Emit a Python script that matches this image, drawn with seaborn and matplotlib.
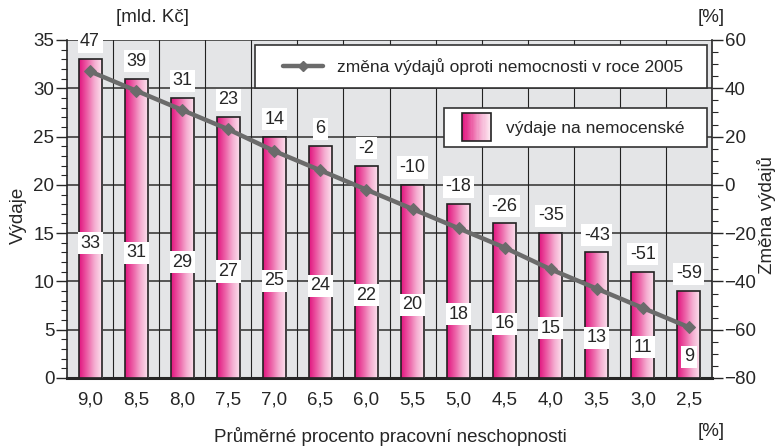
import numpy as np
import pandas as pd
import matplotlib
matplotlib.use("Agg")
import matplotlib.pyplot as plt
from matplotlib.colors import LinearSegmentedColormap
from matplotlib.lines import Line2D
from matplotlib.patches import Rectangle
from matplotlib.legend_handler import HandlerBase, HandlerLine2D
import seaborn as sns

sns.set_style("white")
plt.rcParams['font.family'] = ['Liberation Sans', 'DejaVu Sans']

# data
categories = ['9,0', '8,5', '8,0', '7,5', '7,0', '6,5', '6,0',
              '5,5', '5,0', '4,5', '4,0', '3,5', '3,0', '2,5']
vydaje = [33, 31, 29, 27, 25, 24, 22, 20, 18, 16, 15, 13, 11, 9]
zmena = [47, 39, 31, 23, 14, 6, -2, -10, -18, -26, -35, -43, -51, -59]

df = pd.DataFrame({'procento': categories, 'vydaje': vydaje, 'zmena': zmena})

pink = LinearSegmentedColormap.from_list(
    'pink', ['#e2157f', '#ec5fa6', '#f5b0d2', '#fde6f0'])
grad = np.linspace(0, 1, 64).reshape(1, -1)
line_col = '#6b6b6b'
bg = '#e4e5e7'
FS = 13.5
LFS = 12.5
VFS = 13

fig = plt.figure(figsize=(7.8, 4.47), dpi=100)
ax = fig.add_axes([67/780, 69/447, 645/780, 338/447])
ax.set_facecolor(bg)

sns.barplot(data=df, x='procento', y='vydaje', order=categories,
            color='#ec5fa6', width=0.5, edgecolor='#222222', linewidth=1.2,
            ax=ax, zorder=3)

# gradient fill inside each bar
for p in ax.patches:
    x0, y0 = p.get_x(), p.get_y()
    im = ax.imshow(grad, cmap=pink, aspect='auto', zorder=3.5,
                   extent=[x0, x0 + p.get_width(), y0, y0 + p.get_height()])
    im.set_clip_path(p)
    p.set_facecolor('none')
    p.set_zorder(4)

ax.set_xlim(-0.5, len(categories) - 0.5)
ax.set_ylim(0, 35)
ax.set_yticks(np.arange(0, 36, 5))
ax.set_yticks(np.arange(0, 36, 1), minor=True)
ax.set_xticks(np.arange(len(categories)))
ax.set_xticklabels(categories)
ax.set_xticks(np.arange(-0.5, len(categories)), minor=True)

# grid
for yv in np.arange(5, 36, 5):
    ax.axhline(yv, color='#3c3c3c', lw=1.2, zorder=1)
for xv in np.arange(0.5, len(categories) - 0.5):
    ax.axvline(xv, color='#222222', lw=0.8, zorder=1)

ax.tick_params(axis='x', which='major', length=0, labelsize=FS, pad=10)
ax.tick_params(axis='x', which='minor', length=8, width=1.2, color='#222222')
ax.tick_params(axis='y', which='major', length=8, width=1, labelsize=FS, pad=1)
ax.tick_params(axis='y', which='minor', length=4, width=0.8)
for s in ['top', 'right']:
    ax.spines[s].set_visible(False)
ax.spines['left'].set_linewidth(1.2)
ax.spines['bottom'].set_linewidth(2.2)
ax.set_xlabel('')
ax.set_ylabel('')

# right axis with the line
ax2 = ax.twinx()
pos = np.arange(len(categories))
sns.lineplot(x=pos, y=zmena, ax=ax2, color=line_col, lw=3.2, marker='D',
             markersize=6, markeredgecolor=line_col, zorder=6)
ax2.set_ylim(-80, 60)
ax2.set_yticks(np.arange(-80, 61, 20))
ax2.set_yticks(np.arange(-80, 61, 5), minor=True)
ax2.tick_params(axis='y', which='major', length=8, width=1, labelsize=FS, pad=1)
ax2.tick_params(axis='y', which='minor', length=4, width=0.8)
for s in ['top', 'left', 'bottom']:
    ax2.spines[s].set_visible(False)
ax2.spines['right'].set_linewidth(1.2)
ax2.set_ylabel('')

# value labels
for i, (v, z) in enumerate(zip(vydaje, zmena)):
    ax.text(i, v * 0.49 - 2.2, str(v), ha='center', va='center', fontsize=VFS,
            zorder=7, bbox=dict(facecolor='white', edgecolor='none', pad=1.8))
    ax.text(i, v + 1.8, str(z), ha='center', va='center', fontsize=VFS,
            zorder=7, bbox=dict(facecolor='white', edgecolor='none', pad=1.8))


class GradientHandler(HandlerBase):
    # square swatch sitting at the right end of the handle box
    def create_artists(self, legend, orig, xd, yd, w, h, fs, trans):
        rw = 1.67 * fs
        x0 = -xd + w - rw
        arts = []
        n = 24
        for k in range(n):
            arts.append(Rectangle((x0 + rw * k / n, -yd), rw / n + 0.3, h,
                                  facecolor=pink(k / (n - 1)), edgecolor='none',
                                  transform=trans))
        arts.append(Rectangle((x0, -yd), rw, h, facecolor='none',
                              edgecolor='#222222', lw=1.2, transform=trans))
        return arts


h_line = Line2D([], [], color=line_col, lw=3.2, marker='D', markersize=5)
leg1 = ax2.legend([h_line], ['změna výdajů oproti nemocnosti v roce 2005'],
                  handler_map={h_line: HandlerLine2D(xpad=0.86)},
                  loc='upper left', bbox_to_anchor=(0.2915, 0.5, 0.7008, 0.485),
                  mode='expand', fontsize=LFS, frameon=True, fancybox=False,
                  framealpha=1, handlelength=3.16, borderpad=0.75,
                  borderaxespad=0, handletextpad=0.8)
leg1.get_frame().set_edgecolor('#333333')
leg1.get_frame().set_linewidth(1.2)
leg1.set_zorder(10)
ax2.add_artist(leg1)

h_bar = Rectangle((0, 0), 1, 1)
leg2 = ax2.legend([h_bar], ['výdaje na nemocenské'],
                  handler_map={Rectangle: GradientHandler()},
                  loc='upper left', bbox_to_anchor=(0.5845, 0.3, 0.4078, 0.499),
                  mode='expand', fontsize=LFS, frameon=True, fancybox=False,
                  framealpha=1, handlelength=2.39, handleheight=2.13,
                  borderpad=0.3, borderaxespad=0, handletextpad=0.86)
leg2.get_frame().set_edgecolor('#333333')
leg2.get_frame().set_linewidth(1.2)
leg2.set_zorder(10)

# axis texts
fig.text(18/780, 1 - 215/447, 'Výdaje', rotation=90, ha='center', va='center', fontsize=FS)
fig.text(152/780, 1 - 18/447, '[mld. Kč]', ha='center', va='center', fontsize=FS)
fig.text(711/780, 1 - 18/447, '[%]', ha='center', va='center', fontsize=FS)
fig.text(766/780, 1 - 215/447, 'Změna výdajů', rotation=90, ha='center', va='center', fontsize=FS)
fig.text(390/780, 1 - 437/447, 'Průměrné procento pracovní neschopnosti',
         ha='center', va='center', fontsize=FS)
fig.text(711/780, 1 - 432/447, '[%]', ha='center', va='center', fontsize=FS)

fig.savefig('out.png', dpi=100, facecolor='white')
